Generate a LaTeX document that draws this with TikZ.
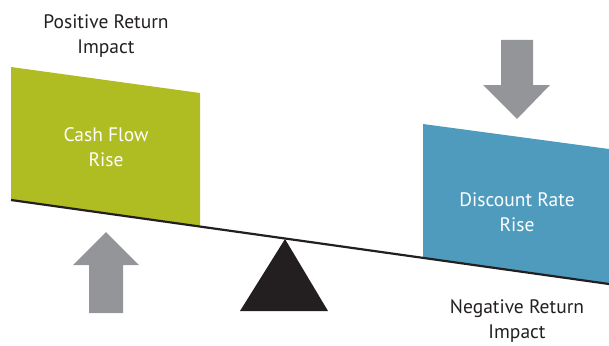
\documentclass[tikz,border=0pt]{standalone}
\usepackage{fontspec}
\setmainfont{PT Sans}
\definecolor{cashgreen}{HTML}{AFBD22}
\definecolor{rateblue}{HTML}{4F9BBD}
\definecolor{arrowgray}{HTML}{939598}
\definecolor{inkdark}{HTML}{231F20}
\begin{document}
\begin{tikzpicture}[x=1pt,y=-1pt,
  label/.style={align=center,font=\fontsize{19.5}{25.5}\selectfont,inner sep=0pt},
  darklabel/.style={label,text=inkdark},
  lightlabel/.style={label,text=white}]
\useasboundingbox (0,0) rectangle (609,345);
% tilted panels resting on the beam
\fill[cashgreen] (11,67) -- (200,93) -- (200,226.5) -- (11,200) -- cycle;
\fill[rateblue] (423,124) -- (609,149) -- (609,284) -- (423,258) -- cycle;
% beam and fulcrum
\coordinate (beamL) at (11,200);
\coordinate (beamR) at (609,284);
\draw[inkdark,line width=2.2pt] (beamL) -- (beamR);
\fill[inkdark] (285,239) -- (328,311) -- (240,311) -- cycle;
% block arrows
\fill[arrowgray] (89,313) -- (89,265) -- (73,265) -- (106,232) -- (139,265) -- (123,265) -- (123,313) -- cycle;
\fill[arrowgray] (501,40) -- (533,40) -- (533,85) -- (550,85) -- (517,119) -- (483,85) -- (501,85) -- cycle;
% captions
\node[darklabel] (pos) at (106,36) {Positive Return\\Impact};
\node[lightlabel] (cash) at (106,147) {Cash Flow\\Rise};
\node[lightlabel] (disc) at (517,212) {Discount Rate\\Rise};
\node[darklabel] (neg) at (517,321) {Negative Return\\Impact};
\end{tikzpicture}
\end{document}
